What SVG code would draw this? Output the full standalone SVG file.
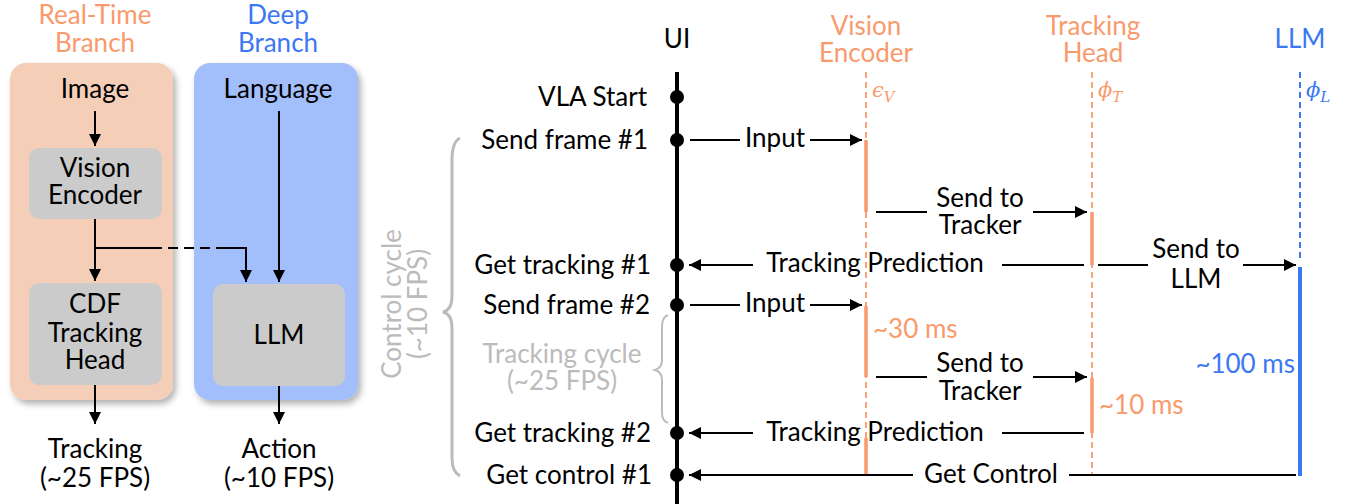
<svg xmlns="http://www.w3.org/2000/svg" width="1362" height="504" viewBox="0 0 1362 504">
<defs>
<style>
text{font-family:Lato,"Open Sans","DejaVu Sans",sans-serif;font-size:26px;fill:#000}
.c{text-anchor:middle}
.e{text-anchor:end}
.or{fill:#F99A6C}
.bl{fill:#3B78F2}
.gy{fill:#BBBBBB}
.m{font-family:"DejaVu Serif","Liberation Serif",serif;font-style:italic;font-size:21px}
.ln{stroke:#000;stroke-width:2;fill:none}
.ar{stroke:#000;stroke-width:2;fill:none;marker-end:url(#ah)}
.dash-o{stroke:#F99A6C;stroke-width:1.8;stroke-dasharray:6 4;fill:none}
.dash-b{stroke:#3B78F2;stroke-width:2;stroke-dasharray:6 4;fill:none}
.bar-o{stroke:#F99A6C;stroke-width:3.5}
.brace{stroke:#BBBBBB;fill:none}
.dot{fill:#000}
</style>
<marker id="ah" viewBox="0 0 10 10" refX="10" refY="5" markerWidth="6" markerHeight="6" orient="auto" markerUnits="strokeWidth">
<path d="M0,0 L10,5 L0,10 z" fill="#000"/>
</marker>
<filter id="sh" x="-10%" y="-10%" width="130%" height="130%">
<feDropShadow dx="3" dy="4" stdDeviation="3" flood-color="#000" flood-opacity="0.3"/>
</filter>
</defs>

<!-- Left panel -->
<g id="realtime-branch">
<text class="c or" x="95" y="24">Real-Time</text>
<text class="c or" x="95" y="52">Branch</text>
<rect x="10" y="63" width="163" height="337" rx="16" fill="#F5CEB8" filter="url(#sh)"/>
<text class="c" x="95" y="98">Image</text>
</g>
<g id="deep-branch">
<text class="c bl" x="278" y="24">Deep</text>
<text class="c bl" x="278" y="52">Branch</text>
<rect x="194" y="63" width="164" height="337" rx="16" fill="#A3BFFB" filter="url(#sh)"/>
<text class="c" x="278" y="98">Language</text>
</g>
<g id="vision-encoder-box">
<rect x="29" y="148" width="133" height="71" rx="10" fill="#CBCBCB"/>
<text class="c" x="95" y="177">Vision</text>
<text class="c" x="95" y="204">Encoder</text>
</g>
<g id="cdf-box">
<rect x="29" y="283" width="133" height="102" rx="10" fill="#CBCBCB"/>
<text class="c" x="95" y="313">CDF</text>
<text class="c" x="95" y="342">Tracking</text>
<text class="c" x="95" y="369">Head</text>
</g>
<g id="llm-box">
<rect x="213" y="284" width="132" height="102" rx="10" fill="#CBCBCB"/>
<text class="c" x="279" y="344">LLM</text>
</g>
<g id="outputs">
<text class="c" x="95" y="458">Tracking</text>
<text class="c" x="95" y="487">(~25 FPS)</text>
<text class="c" x="279" y="458">Action</text>
<text class="c" x="279" y="487">(~10 FPS)</text>
</g>

<g id="left-connectors">
<path class="ar" d="M95,111 V146"/>
<path class="ar" d="M95,219 V281"/>
<path class="ln" d="M95,248 H152"/>
<path class="ln" d="M152,248 H217" stroke-dasharray="10 6"/>
<path class="ar" d="M217,248 H246 V282"/>
<path class="ar" d="M279,111 V282"/>
<path class="ar" d="M95,385 V424"/>
<path class="ar" d="M279,386 V424"/>
</g>

<!-- Right panel: lifelines -->
<g id="ui">
<text class="c" x="677" y="48">UI</text>
<line x1="677" y1="72" x2="677" y2="504" stroke="#000" stroke-width="4"/>
</g>
<g id="vision-encoder">
<text class="c or" x="866" y="35">Vision</text>
<text class="c or" x="866" y="62">Encoder</text>
<line class="dash-o" x1="866" y1="72" x2="866" y2="475"/>
<text class="m or" x="872" y="97">ϵ<tspan font-size="15" dy="5">V</tspan></text>
<line class="bar-o" x1="866" y1="140" x2="866" y2="212"/>
<line class="bar-o" x1="866" y1="306" x2="866" y2="377"/>
<line class="bar-o" x1="866" y1="438" x2="866" y2="475"/>
<text class="or" x="873" y="338">~30 ms</text>
</g>
<g id="tracking-head">
<text class="c or" x="1093" y="35">Tracking</text>
<text class="c or" x="1093" y="62">Head</text>
<line class="dash-o" x1="1092" y1="72" x2="1092" y2="475"/>
<text class="m or" x="1098" y="97">ϕ<tspan font-size="15" dy="5">T</tspan></text>
<line class="bar-o" x1="1092" y1="212" x2="1092" y2="265"/>
<line class="bar-o" x1="1092" y1="378" x2="1092" y2="433"/>
<text class="or" x="1099" y="414">~10 ms</text>
</g>
<g id="llm">
<text class="c bl" x="1300" y="48">LLM</text>
<line class="dash-b" x1="1300" y1="72" x2="1300" y2="262"/>
<text class="m bl" x="1306" y="97">ϕ<tspan font-size="15" dy="5">L</tspan></text>
<line x1="1300" y1="267" x2="1300" y2="476" stroke="#3B78F2" stroke-width="4"/>
<text class="e bl" x="1295" y="373">~100 ms</text>
</g>

<g id="events">
<circle class="dot" cx="677" cy="97" r="7"/>
<text class="e" x="647" y="106">VLA Start</text>
<circle class="dot" cx="677" cy="140" r="7"/>
<text class="e" x="648" y="149">Send frame #1</text>
<circle class="dot" cx="677" cy="265" r="7"/>
<text class="e" x="651" y="274">Get tracking #1</text>
<circle class="dot" cx="677" cy="305" r="7"/>
<text class="e" x="650" y="314">Send frame #2</text>
<circle class="dot" cx="677" cy="433" r="7"/>
<text class="e" x="651" y="442">Get tracking #2</text>
<circle class="dot" cx="677" cy="475" r="7"/>
<text class="e" x="652" y="484">Get control #1</text>
</g>

<g id="cycles">
<path class="brace" stroke-width="3" d="M460,138 Q452,142 452,160 L452,296 Q452,310 443,312 Q452,314 452,328 L452,458 Q452,472 460,476"/>
<text class="gy c" transform="translate(401,304) rotate(-90)">Control cycle</text>
<text class="gy c" transform="translate(427,304) rotate(-90)">(~10 FPS)</text>
<path class="brace" stroke-width="2" d="M668,315 Q662,317 662,327 L662,360 Q662,368 655,370 Q662,372 662,380 L662,413 Q662,421 668,423"/>
<text class="gy c" x="562" y="363">Tracking cycle</text>
<text class="gy c" x="562" y="390">(~25 FPS)</text>
</g>

<g id="connectors">
<path class="ln" d="M690,140 H740"/>
<text class="c" x="775" y="147">Input</text>
<path class="ar" d="M810,140 H862"/>
<path class="ln" d="M876,212 H927"/>
<text class="c" x="980" y="207">Send to</text>
<text class="c" x="980" y="234">Tracker</text>
<path class="ar" d="M1033,212 H1087"/>
<path class="ar" d="M753,265 H689"/>
<text class="c" x="875" y="272">Tracking Prediction</text>
<path class="ln" d="M1002,265 H1084"/>
<path class="ln" d="M1098,265 H1148"/>
<text class="c" x="1196" y="258">Send to</text>
<text class="c" x="1196" y="288">LLM</text>
<path class="ar" d="M1243,265 H1296"/>
<path class="ln" d="M690,305 H740"/>
<text class="c" x="775" y="312">Input</text>
<path class="ar" d="M810,305 H862"/>
<path class="ln" d="M876,377 H927"/>
<text class="c" x="980" y="372">Send to</text>
<text class="c" x="980" y="400">Tracker</text>
<path class="ar" d="M1033,377 H1087"/>
<path class="ar" d="M753,433 H689"/>
<text class="c" x="875" y="441">Tracking Prediction</text>
<path class="ln" d="M1002,433 H1084"/>
<path class="ar" d="M913,475 H689"/>
<path class="ln" d="M1069,475 H1296"/>
<text class="c" x="991" y="483">Get Control</text>
</g>
</svg>
